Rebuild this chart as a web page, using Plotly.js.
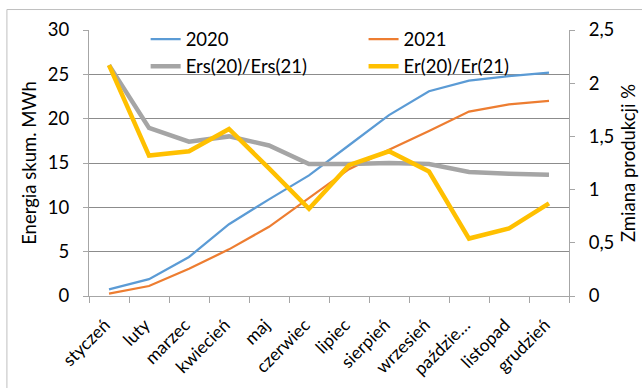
<!DOCTYPE html>
<html>
<head>
<meta charset="utf-8">
<script src="https://cdn.plot.ly/plotly-3.0.1.min.js"></script>
<style>
  html, body { margin: 0; padding: 0; background: #fff; }
  #chart { width: 642px; height: 388px; }
</style>
</head>
<body>
<div id="chart"></div>
<script>
// Months (x categories)
const months = ['styczeń', 'luty', 'marzec', 'kwiecień', 'maj', 'czerwiec',
                'lipiec', 'sierpień', 'wrzesień', 'paździe…', 'listopad', 'grudzień'];

// Cumulative energy, MWh (left axis)
const energy2020 = [0.75, 1.9, 4.4, 8.1, 10.9, 13.6, 17.0, 20.4, 23.1, 24.3, 24.8, 25.2];
const energy2021 = [0.26, 1.13, 3.08, 5.26, 7.8, 11.0, 14.3, 16.5, 18.6, 20.8, 21.6, 22.0];

// Production change ratios, % (right axis)
const ersRatio = [2.17, 1.58, 1.45, 1.50, 1.415, 1.24, 1.24, 1.25, 1.24, 1.165, 1.15, 1.14];
const erRatio  = [2.17, 1.32, 1.36, 1.57, 1.20, 0.82, 1.23, 1.36, 1.17, 0.54, 0.635, 0.87];

// Axis tick values
const leftTicks  = [0, 5, 10, 15, 20, 25, 30];
const rightTicks = [0, 0.5, 1, 1.5, 2, 2.5];

const FONT = 'Lato, "Open Sans", "DejaVu Sans", sans-serif';
const AXIS_GREY = '#a6a6a6';
const GRID_GREY = '#8c8c8c';

const traces = [
  { name: '2020', x: months, y: energy2020, type: 'scatter', mode: 'lines',
    line: { color: '#5b9bd5', width: 2.25 }, legend: 'legend' },
  { name: '2021', x: months, y: energy2021, type: 'scatter', mode: 'lines',
    line: { color: '#ed7d31', width: 2.25 }, legend: 'legend2' },
  { name: 'Ers(20)/Ers(21)', x: months, y: ersRatio, type: 'scatter', mode: 'lines',
    yaxis: 'y2', line: { color: '#a5a5a5', width: 4.5 }, legend: 'legend' },
  { name: 'Er(20)/Er(21)', x: months, y: erRatio, type: 'scatter', mode: 'lines',
    yaxis: 'y2', line: { color: '#ffc000', width: 4.5 }, legend: 'legend2' }
];

const legendCommon = {
  orientation: 'v', xanchor: 'left', yanchor: 'top', y: 1.035,
  bgcolor: 'rgba(0,0,0,0)', borderwidth: 0,
  font: { family: FONT, size: 18.5, color: '#000' },
  tracegroupgap: 0
};

const layout = {
  width: 642,
  height: 388,
  margin: { l: 89, r: 73, t: 29.5, b: 92, pad: 0 },
  paper_bgcolor: '#fff',
  plot_bgcolor: '#fff',
  separators: ', ',
  font: { family: FONT, size: 18, color: '#000' },
  showlegend: true,
  legend: Object.assign({ x: 0.118 }, legendCommon),
  legend2: Object.assign({ x: 0.572 }, legendCommon),
  xaxis: {
    type: 'category',
    range: [-0.5, months.length - 0.5],
    tickangle: -45,
    tickson: 'boundaries',
    ticks: 'outside',
    ticklen: 6,
    tickcolor: AXIS_GREY,
    ticklabelstandoff: 11,
    ticklabelshift: -4,
    showline: true,
    linecolor: AXIS_GREY,
    linewidth: 1,
    showgrid: false,
    tickfont: { family: FONT, size: 17.5, color: '#000' },
    fixedrange: true
  },
  yaxis: {
    range: [0, 30],
    tickvals: leftTicks,
    ticks: 'outside',
    ticklen: 5,
    tickcolor: AXIS_GREY,
    ticklabelstandoff: 10,
    showline: true,
    linecolor: AXIS_GREY,
    showgrid: true,
    gridcolor: GRID_GREY,
    gridwidth: 1,
    zeroline: false,
    tickfont: { family: FONT, size: 18.5, color: '#000' },
    title: { text: 'Energia skum. MWh', font: { family: FONT, size: 18.5, color: '#000' }, standoff: 6 },
    fixedrange: true
  },
  yaxis2: {
    overlaying: 'y',
    side: 'right',
    range: [0, 2.5],
    tickvals: rightTicks,
    tickformat: '.1~f',
    ticks: 'outside',
    ticklen: 5,
    tickcolor: AXIS_GREY,
    ticklabelstandoff: 10,
    showline: true,
    linecolor: AXIS_GREY,
    showgrid: false,
    zeroline: false,
    tickfont: { family: FONT, size: 18.5, color: '#000' },
    title: { text: 'Zmiana produkcji %', font: { family: FONT, size: 18.5, color: '#000' }, standoff: 8 },
    fixedrange: true
  },
  shapes: [
    // outer chart frame
    { type: 'rect', xref: 'paper', yref: 'paper', layer: 'below',
      x0: -0.171, x1: 1.3, y0: -0.5, y1: 1.077,
      line: { color: '#bfbfbf', width: 1 }, fillcolor: 'rgba(0,0,0,0)' }
  ]
};

Plotly.newPlot('chart', traces, layout, { displayModeBar: false, staticPlot: true });
</script>
</body>
</html>
